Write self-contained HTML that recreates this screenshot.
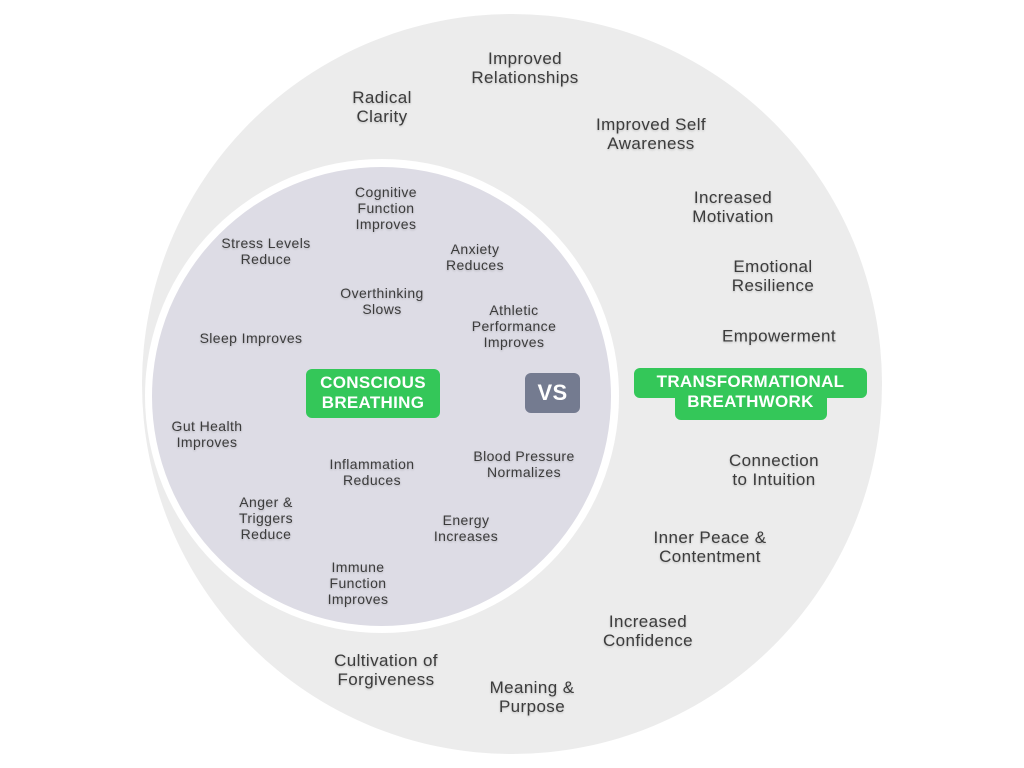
<!DOCTYPE html>
<html><head><meta charset="utf-8"><style>
body{margin:0;width:1024px;height:768px;background:#fff;position:relative;overflow:hidden;font-family:"Liberation Sans",sans-serif;}
.c{position:absolute;border-radius:50%;}
.t{position:absolute;transform:translate(-50%,-50%);text-align:center;color:#3c3c3c;white-space:nowrap;text-shadow:0 1px 2px rgba(0,0,0,.2);letter-spacing:0.4px;}
.o{font-size:17px;line-height:19px;}
.i{font-size:14px;line-height:16px;}
.g{position:absolute;background:#34c759;color:#fff;font-weight:bold;text-align:center;border-radius:6px;font-size:17px;line-height:20px;letter-spacing:0.3px;}
</style></head><body>
<div class="c" style="left:142px;top:14px;width:740px;height:740px;background:#ececec"></div>
<div class="c" style="left:145px;top:159px;width:474px;height:474px;background:#fff"></div>
<div class="c" style="left:152px;top:167px;width:459px;height:459px;background:#dddce5"></div>

<div class="t o" style="left:525px;top:68px">Improved<br>Relationships</div>
<div class="t o" style="left:382px;top:107px">Radical<br>Clarity</div>
<div class="t o" style="left:651px;top:134px">Improved Self<br>Awareness</div>
<div class="t o" style="left:733px;top:207px">Increased<br>Motivation</div>
<div class="t o" style="left:773px;top:276px">Emotional<br>Resilience</div>
<div class="t o" style="left:779px;top:336px">Empowerment</div>
<div class="t o" style="left:774px;top:470px">Connection<br>to Intuition</div>
<div class="t o" style="left:710px;top:547px">Inner Peace &amp;<br>Contentment</div>
<div class="t o" style="left:648px;top:631px">Increased<br>Confidence</div>
<div class="t o" style="left:386px;top:670px">Cultivation of<br>Forgiveness</div>
<div class="t o" style="left:532px;top:697px">Meaning &amp;<br>Purpose</div>

<div class="t i" style="left:386px;top:208px">Cognitive<br>Function<br>Improves</div>
<div class="t i" style="left:266px;top:251px">Stress Levels<br>Reduce</div>
<div class="t i" style="left:475px;top:257px">Anxiety<br>Reduces</div>
<div class="t i" style="left:382px;top:301px">Overthinking<br>Slows</div>
<div class="t i" style="left:514px;top:326px">Athletic<br>Performance<br>Improves</div>
<div class="t i" style="left:251px;top:338px">Sleep Improves</div>
<div class="t i" style="left:207px;top:434px">Gut Health<br>Improves</div>
<div class="t i" style="left:524px;top:464px">Blood Pressure<br>Normalizes</div>
<div class="t i" style="left:372px;top:472px">Inflammation<br>Reduces</div>
<div class="t i" style="left:266px;top:518px">Anger &amp;<br>Triggers<br>Reduce</div>
<div class="t i" style="left:466px;top:528px">Energy<br>Increases</div>
<div class="t i" style="left:358px;top:583px">Immune<br>Function<br>Improves</div>

<div class="g" style="left:306px;top:369px;width:134px;height:49px;padding-top:4px;box-sizing:border-box">CONSCIOUS<br>BREATHING</div>
<div class="g" style="left:525px;top:373px;width:55px;height:40px;background:#747b90;font-size:22px;line-height:40px">VS</div>
<div class="g" style="left:634px;top:368px;width:233px;height:30px"></div>
<div class="g" style="left:675px;top:380px;width:152px;height:40px"></div>
<div class="g" style="left:634px;top:372px;width:233px;background:transparent;line-height:20px">TRANSFORMATIONAL<br>BREATHWORK</div>
</body></html>
